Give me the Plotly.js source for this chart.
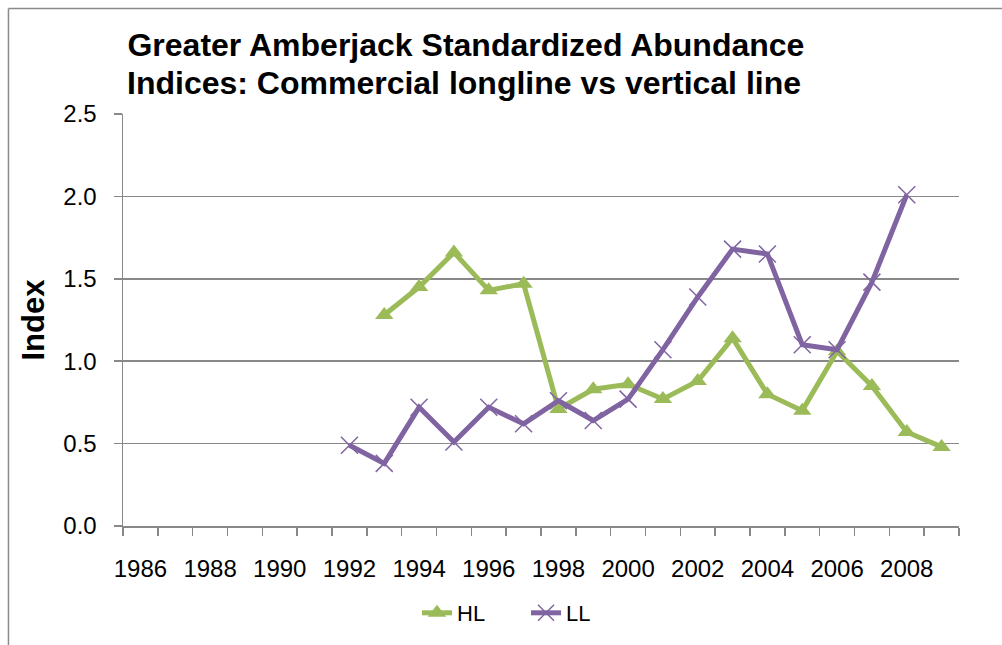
<!DOCTYPE html>
<html>
<head>
<meta charset="utf-8">
<script src="https://cdn.plot.ly/plotly-3.0.1.min.js"></script>
<style>html,body{margin:0;padding:0;background:#fff;}#chart{width:1002px;height:645px;}</style>
</head>
<body>
<div id="chart"></div>
<script>
const hlYears = [1993,1994,1995,1996,1997,1998,1999,2000,2001,2002,2003,2004,2005,2006,2007,2008,2009];
const hlValues = [1.28,1.45,1.66,1.43,1.47,0.71,0.83,0.86,0.77,0.88,1.14,0.80,0.70,1.06,0.85,0.57,0.48];
const llYears = [1992,1993,1994,1995,1996,1997,1998,1999,2000,2001,2002,2003,2004,2005,2006,2007,2008];
const llValues = [0.49,0.38,0.72,0.51,0.72,0.62,0.76,0.64,0.77,1.07,1.39,1.68,1.65,1.10,1.07,1.48,2.01];
const tickYears = [1986,1988,1990,1992,1994,1996,1998,2000,2002,2004,2006,2008];
const tickLabels = ["1986","1988","1990","1992","1994","1996","1998","2000","2002","2004","2006","2008"];
const yTickVals = [0, 0.5, 1, 1.5, 2, 2.5];
const yTickLabels = ["0.0","0.5","1.0","1.5","2.0","2.5"];
const titleLine1 = "Greater Amberjack Standardized Abundance";
const titleLine2 = "Indices: Commercial longline vs vertical line";
const categoryBounds = [];
for (let y = 1985.5; y <= 2009.5; y += 1) categoryBounds.push(y);

const BODY = "Liberation Sans, Arial, sans-serif";
const GRID = "#888888";

const traces = [
  {
    x: hlYears, y: hlValues, name: "HL", type: "scatter", mode: "lines+markers",
    line: {color: "#9BBB59", width: 5},
    marker: {symbol: "triangle-up", size: 16, color: "#9BBB59"}
  },
  {
    x: llYears, y: llValues, name: "LL", type: "scatter", mode: "lines+markers",
    line: {color: "#8064A2", width: 5},
    marker: {symbol: "x-thin", size: 17, color: "#8064A2", line: {color: "#8064A2", width: 1.5}}
  }
];

const layout = {
  width: 1002, height: 645,
  paper_bgcolor: "#ffffff", plot_bgcolor: "#ffffff",
  margin: {l: 123, r: 43, t: 114, b: 118},
  font: {family: BODY, size: 22, color: "#000"},
  title: {
    text: "<b>" + titleLine1 + "</b>",
    font: {family: BODY, size: 32, color: "#000"},
    x: 0.465, xanchor: "center", xref: "container",
    y: 1 - 45/645, yanchor: "middle", yref: "container"
  },
  annotations: [
    {
      text: "<b>" + titleLine2 + "</b>", showarrow: false,
      font: {family: BODY, size: 32, color: "#000"},
      xref: "paper", yref: "paper", x: (464-123)/836, xanchor: "center",
      y: (527-83)/413, yanchor: "middle"
    }
  ],
  showlegend: true,
  legend: {
    orientation: "h", x: (417-123)/836, xanchor: "left", y: (527-613)/413, yanchor: "middle",
    font: {family: BODY, size: 22, color: "#000"},
    entrywidth: 64, entrywidthmode: "pixels", tracegroupgap: 0
  },
  xaxis: {
    type: "linear", range: [1985.5, 2009.5],
    tickmode: "array", tickvals: tickYears, ticktext: tickLabels,
    ticks: "", showgrid: false, zeroline: false,
    showline: true, linecolor: GRID, linewidth: 1.5,
    tickfont: {family: BODY, size: 24, color: "#000"},
    ticklabelstandoff: 21,
    minor: {tickmode: "array", tickvals: categoryBounds, ticks: "outside", ticklen: 8, tickcolor: GRID, tickwidth: 1.5, showgrid: false}
  },
  yaxis: {
    range: [0, 2.5], tickmode: "array", tickvals: yTickVals, ticktext: yTickLabels,
    ticks: "outside", ticklen: 8, tickcolor: GRID, tickwidth: 1.5,
    showgrid: true, gridcolor: GRID, gridwidth: 1.5, zeroline: false,
    showline: true, linecolor: GRID, linewidth: 1.5,
    tickfont: {family: BODY, size: 24, color: "#000"},
    ticklabelstandoff: 12,
    title: {text: "<b>Index</b>", font: {family: BODY, size: 31, color: "#000"}, standoff: 9}
  },
  shapes: [
    {type: "line", xref: "paper", yref: "paper", x0: -0.137, x1: 1.06, y0: 1.256, y1: 1.256, line: {color: "#8a8a8a", width: 1.5}},
    {type: "line", xref: "paper", yref: "paper", x0: -0.137, x1: -0.137, y0: 1.256, y1: -0.3, line: {color: "#8a8a8a", width: 1.5}}
  ]
};

Plotly.newPlot("chart", traces, layout, {displayModeBar: false, staticPlot: true});
</script>
</body>
</html>
